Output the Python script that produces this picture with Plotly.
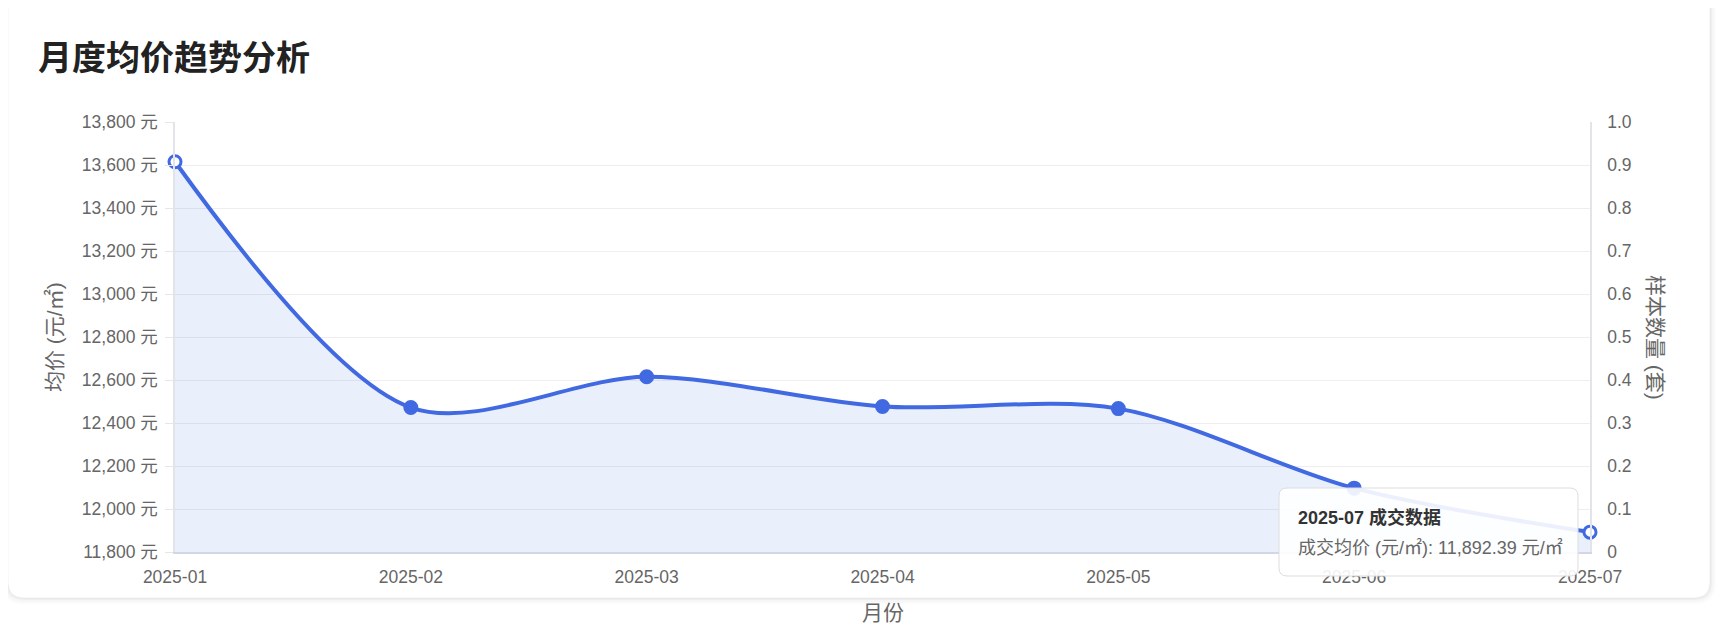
import plotly.graph_objects as go

# ---------------- data ----------------
months = ["2025-01", "2025-02", "2025-03", "2025-04", "2025-05", "2025-06", "2025-07"]
avg_price = [13615, 12472, 12615, 12477, 12467, 12097, 11892.39]
sample_counts = [None, None, None, None, None, None, None]
left_range = [11800, 13800]
right_ticks = [0, 0.1, 0.2, 0.3, 0.4, 0.5, 0.6, 0.7, 0.8, 0.9, 1.0]
right_tick_labels = ["0", "0.1", "0.2", "0.3", "0.4", "0.5", "0.6", "0.7", "0.8", "0.9", "1.0"]
title_text = "月度均价趋势分析"
tooltip_title = "2025-07 成交数据"
tooltip_body = "成交均价 (元/㎡): 11,892.39 元/㎡"

# ---------------- layout geometry (pixels, page body has an 8px margin) ----------------
OFF = 8
W, H = 1728, 640
L, R, T, B = 175 - OFF, 1590 - OFF, 122 - OFF, 552 - OFF
PW, PH = R - L, B - T

def px(x):
    return (x - OFF - L) / PW

def py(y):
    return (B - (y - OFF)) / PH

def rrect(x0, y0, x1, y1, r):
    rx, ry = r / PW, r / PH
    X0, X1 = px(x0), px(x1)
    Y0, Y1 = py(y0), py(y1)
    return (f"M {X0+rx},{Y0} L {X1-rx},{Y0} Q {X1},{Y0} {X1},{Y0-ry} "
            f"L {X1},{Y1+ry} Q {X1},{Y1} {X1-rx},{Y1} "
            f"L {X0+rx},{Y1} Q {X0},{Y1} {X0},{Y1+ry} "
            f"L {X0},{Y0-ry} Q {X0},{Y0} {X0+rx},{Y0} Z")

FONT = "Liberation Sans, Arial, Noto Sans CJK SC, sans-serif"
BLUE = "#4169E1"
GREY = "#666666"

marker_fill = ["#ffffff"] + [BLUE] * (len(months) - 2) + ["#ffffff"]

fig = go.Figure()
fig.add_trace(go.Scatter(
    x=months, y=avg_price, mode="lines+markers",
    line=dict(color=BLUE, width=4, shape="spline", smoothing=0.9),
    fill="tozeroy", fillcolor="rgba(65,105,225,0.11)",
    marker=dict(size=12, color=marker_fill, line=dict(color=BLUE, width=3)),
    cliponaxis=False, hoverinfo="skip", showlegend=False,
))
fig.add_trace(go.Scatter(
    x=months, y=sample_counts, yaxis="y2", mode="lines",
    hoverinfo="skip", showlegend=False,
))

shapes = []
for i, a in enumerate([0.015, 0.02, 0.03]):
    g = 6 - 2 * i
    shapes.append(dict(type="path", xref="paper", yref="paper", layer="below",
                       path=rrect(OFF - g, -10, 1710 + g, 598 + g, 16 + g),
                       fillcolor=f"rgba(0,0,0,{a})", line=dict(width=0)))
shapes.append(dict(type="path", xref="paper", yref="paper", layer="below",
                   path=rrect(OFF, -10, 1710, 598, 16),
                   fillcolor="#ffffff", line=dict(color="rgba(0,0,0,0.05)", width=1)))
shapes.append(dict(type="path", xref="paper", yref="paper", layer="above",
                   path=rrect(1279, 488, 1578, 576, 8),
                   fillcolor="rgba(255,255,255,0.9)", line=dict(color="#dddddd", width=1)))

annotations = [
    dict(text="均价 (元/㎡)", x=px(54), y=0.5, xref="paper", yref="paper",
         xanchor="center", yanchor="middle",
         textangle=-90, showarrow=False, font=dict(size=21, color=GREY, family=FONT)),
    dict(text="样本数量 (套)", x=px(1656), y=0.5, xref="paper", yref="paper",
         xanchor="center", yanchor="middle",
         textangle=90, showarrow=False, font=dict(size=21, color=GREY, family=FONT)),
    dict(text="月份", x=0.5, y=py(612), xref="paper", yref="paper",
         xanchor="center", yanchor="middle",
         showarrow=False, font=dict(size=21, color=GREY, family=FONT)),
    dict(text=f"<b>{tooltip_title}</b>", x=px(1296), y=py(517), xref="paper", yref="paper",
         xanchor="left", yanchor="middle", showarrow=False,
         font=dict(size=18, color="#333333", family=FONT)),
    dict(text=tooltip_body, x=px(1296), y=py(547), xref="paper", yref="paper",
         xanchor="left", yanchor="middle", showarrow=False,
         font=dict(size=18, color=GREY, family=FONT)),
]

fig.update_layout(
    width=W, height=H,
    margin=dict(l=L, r=W - R, t=T, b=H - B, pad=0),
    paper_bgcolor="#ffffff", plot_bgcolor="rgba(0,0,0,0)",
    font=dict(family=FONT, color=GREY, size=17.5),
    title=dict(text=f"<b>{title_text}</b>", x=(38 - OFF) / W, xref="container",
               xanchor="left", y=1 - (58 - OFF) / H, yanchor="middle",
               font=dict(size=34, color="#222222", family="Noto Sans CJK SC, sans-serif")),
    xaxis=dict(type="category", range=[0, len(months) - 1], showgrid=False,
               showline=True, linecolor="#d3d6e4", linewidth=1.5, ticks="",
               tickfont=dict(size=17.5, color=GREY), ticklabelstandoff=8, zeroline=False),
    yaxis=dict(range=left_range, dtick=200, tickformat=",d", ticksuffix=" 元",
               showgrid=True, gridcolor="#eeeeee", gridwidth=1,
               showline=True, linecolor="#e3e3ea", linewidth=1.5,
               ticks="outside", ticklen=8, tickcolor="#e6e6ea",
               tickfont=dict(size=17.5, color=GREY), ticklabelstandoff=4, zeroline=False),
    yaxis2=dict(range=[0, 1], overlaying="y", side="right", tickvals=right_ticks,
                ticktext=right_tick_labels, showgrid=False, showline=True,
                linecolor="#e3e3ea", linewidth=1.5, ticks="", zeroline=False,
                tickfont=dict(size=17.5, color=GREY), ticklabelstandoff=12),
    shapes=shapes, annotations=annotations,
    hovermode=False,
)

fig.write_html("out.html")
